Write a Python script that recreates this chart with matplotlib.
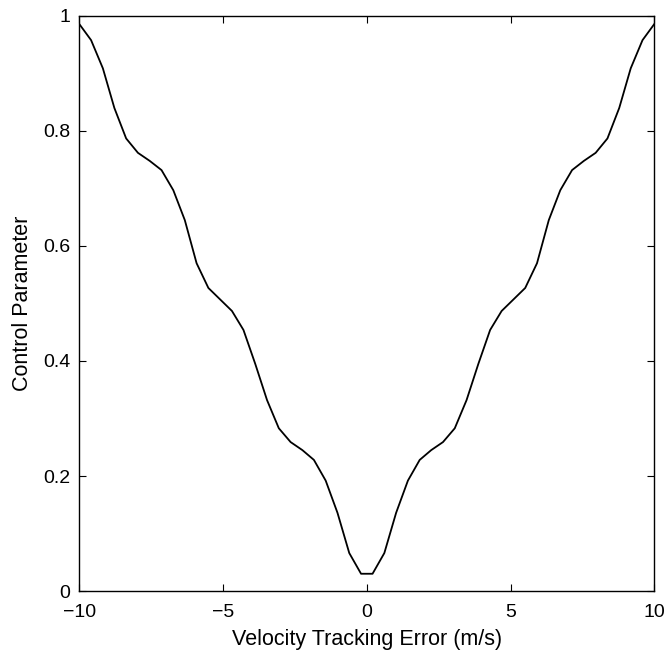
import matplotlib
matplotlib.use("Agg")
import matplotlib.pyplot as plt

plt.rcParams['font.family'] = ['Liberation Sans', 'DejaVu Sans']

error_ms = [-10.00, -9.59, -9.18, -8.78, -8.37, -7.96, -7.55, -7.14, -6.73, -6.33,
            -5.92, -5.51, -5.10, -4.69, -4.29, -3.88, -3.47, -3.06, -2.65, -2.24,
            -1.84, -1.43, -1.02, -0.61, -0.20,
            0.20, 0.61, 1.02, 1.43, 1.84, 2.24, 2.65, 3.06, 3.47, 3.88,
            4.29, 4.69, 5.10, 5.51, 5.92, 6.33, 6.73, 7.14, 7.55, 7.96,
            8.37, 8.78, 9.18, 9.59, 10.00]
control_param = [0.986, 0.958, 0.909, 0.840, 0.787, 0.762, 0.748, 0.732, 0.697, 0.645,
                 0.570, 0.527, 0.507, 0.487, 0.454, 0.395, 0.332, 0.283, 0.259, 0.245,
                 0.228, 0.192, 0.136, 0.066, 0.030,
                 0.030, 0.066, 0.136, 0.192, 0.228, 0.245, 0.259, 0.283, 0.332, 0.395,
                 0.454, 0.487, 0.507, 0.527, 0.570, 0.645, 0.697, 0.732, 0.748, 0.762,
                 0.787, 0.840, 0.909, 0.958, 0.986]

x_ticks = [-10, -5, 0, 5, 10]
x_tick_labels = ['\u221210', '\u22125', '0', '5', '10']
y_ticks = [0, 0.2, 0.4, 0.6, 0.8, 1]
y_tick_labels = ['0', '0.2', '0.4', '0.6', '0.8', '1']

fig = plt.figure(figsize=(6.68, 6.55), dpi=100)
ax = fig.add_axes([0.1187, 0.0977, 0.8608, 0.8779])
ax.plot(error_ms, control_param, color='black', linewidth=1.3)
ax.set_xlim(-10, 10)
ax.set_ylim(0, 1)
ax.set_xticks(x_ticks)
ax.set_xticklabels(x_tick_labels)
ax.set_yticks(y_ticks)
ax.set_yticklabels(y_tick_labels)
ax.tick_params(axis='both', direction='in', length=5, width=0.8, top=True, right=True,
               labelsize=14, colors='black')
ax.tick_params(axis='x', pad=9)
ax.tick_params(axis='y', pad=6.5)
for s in ax.spines.values():
    s.set_linewidth(1.0)
ax.set_xlabel('Velocity Tracking Error (m/s)', fontsize=15.5, labelpad=6)
ax.set_ylabel('Control Parameter', fontsize=15.5, labelpad=7)
fig.savefig('out.png', dpi=100)
